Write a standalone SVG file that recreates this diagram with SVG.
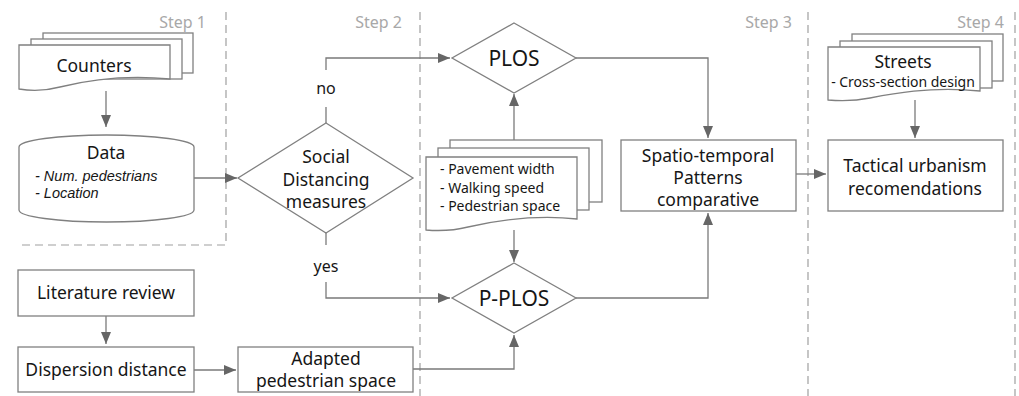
<svg xmlns="http://www.w3.org/2000/svg" width="1019" height="396" viewBox="0 0 1019 396">
<style>
.bg{fill:#fff}
.shape{fill:#fff;stroke:#808080;stroke-width:1.3}
.conn{fill:none;stroke:#7a7a7a;stroke-width:1.3}
.dash{fill:none;stroke:#a0a0a0;stroke-width:1.2;stroke-dasharray:8 5}
.t{font-family:"Noto Sans","Open Sans",sans-serif;fill:#161616;text-anchor:middle}
.big{font-size:17.5px}
.sm{font-size:14px}
.it{font-family:"Liberation Sans",Arial,sans-serif;font-style:italic;text-anchor:start;font-size:14.5px}
.lst{text-anchor:start;font-size:14px}
.step{font-family:"Noto Sans","Open Sans",sans-serif;font-size:16px;fill:#a8a8a8;text-anchor:end}
.lbl{font-family:"Noto Sans","Open Sans",sans-serif;font-size:16px;fill:#161616;text-anchor:middle}
</style>
<defs>
<marker id="ah" markerUnits="userSpaceOnUse" markerWidth="14" markerHeight="11" refX="12" refY="5" orient="auto">
<path d="M0,0 L12,5 L0,10 z" fill="#666"/>
</marker>
</defs>
<rect class="bg" x="0" y="0" width="1019" height="396"/>

<g id="steps">
<path class="dash" d="M226,12 V245 H18"/>
<path class="dash" d="M420,12 V396"/>
<path class="dash" d="M808,12 V396"/>
<path class="dash" d="M1015,12 V396"/>
<text class="step" x="206" y="28">Step 1</text>
<text class="step" x="402" y="28">Step 2</text>
<text class="step" x="792" y="28">Step 3</text>
<text class="step" x="1004" y="28">Step 4</text>
</g>

<g id="connectors">
<path class="conn" d="M106,91 V127" marker-end="url(#ah)"/>
<path class="conn" d="M194,178 H237" marker-end="url(#ah)"/>
<path class="conn" d="M326,123 V107"/>
<path class="conn" d="M326,70 V58 H450" marker-end="url(#ah)"/>
<path class="conn" d="M326,233 V245"/>
<path class="conn" d="M326,282 V298 H450" marker-end="url(#ah)"/>
<path class="conn" d="M514,140 V94" marker-end="url(#ah)"/>
<path class="conn" d="M514,230 V262" marker-end="url(#ah)"/>
<path class="conn" d="M576,58 H708 V138" marker-end="url(#ah)"/>
<path class="conn" d="M576,298 H708 V213" marker-end="url(#ah)"/>
<path class="conn" d="M796,174 H826" marker-end="url(#ah)"/>
<path class="conn" d="M915,100 V138" marker-end="url(#ah)"/>
<path class="conn" d="M106,316 V344" marker-end="url(#ah)"/>
<path class="conn" d="M194,370 H236" marker-end="url(#ah)"/>
<path class="conn" d="M413,369 H514 V335" marker-end="url(#ah)"/>
<text class="lbl" x="326" y="94">no</text>
<text class="lbl" x="326" y="272">yes</text>
</g>

<g id="counters">
<rect class="shape" x="43" y="33" width="150" height="40"/>
<rect class="shape" x="31" y="39" width="151" height="40"/>
<path class="shape" d="M19,45 H170 V79 C120,74 80,82 60,87 C45,91 30,91 19,89 Z"/>
<text class="t big" x="94" y="72">Counters</text>
</g>

<g id="data">
<path class="shape" d="M19,147 A87.5,12 0 0 1 194,147 V210 A87.5,12 0 0 1 19,210 Z"/>
<text class="t big" x="106" y="159">Data</text>
<text class="it" x="35" y="181" fill="#161616">- Num. pedestrians</text>
<text class="it" x="35" y="198" fill="#161616">- Location</text>
</g>

<g id="social">
<polygon class="shape" points="326,123 413,178 326,233 238,178"/>
<text class="t big" x="326" y="163">Social</text>
<text class="t big" x="326" y="186">Distancing</text>
<text class="t big" x="326" y="208">measures</text>
</g>

<g id="plos">
<polygon class="shape" points="514,23 576,58 514,93 452,58"/>
<text class="t" x="514" y="66" font-size="21">PLOS</text>
</g>

<g id="params">
<rect class="shape" x="450" y="140" width="152" height="62"/>
<rect class="shape" x="438" y="148" width="151" height="62"/>
<path class="shape" d="M426,157 H577 V219 C530,214 490,222 468,227 C452,231 438,231 426,230 Z"/>
<text class="t lst" x="440" y="174">- Pavement width</text>
<text class="t lst" x="440" y="193">- Walking speed</text>
<text class="t lst" x="440" y="211">- Pedestrian space</text>
</g>

<g id="pplos">
<polygon class="shape" points="514,263 576,298 514,333 452,298"/>
<text class="t" x="514" y="306" font-size="21">P-PLOS</text>
</g>

<g id="spatio">
<rect class="shape" x="621" y="140" width="175" height="71"/>
<text class="t big" x="708" y="162">Spatio-temporal</text>
<text class="t big" x="708" y="184">Patterns</text>
<text class="t big" x="708" y="206">comparative</text>
</g>

<g id="streets">
<rect class="shape" x="852" y="34" width="151" height="47"/>
<rect class="shape" x="840" y="41" width="152" height="47"/>
<path class="shape" d="M828,47 H980 V91 C930,86 890,94 870,98 C855,101 840,101 828,100 Z"/>
<text class="t big" x="903" y="68">Streets</text>
<text class="t sm" x="903" y="87">- Cross-section design</text>
</g>

<g id="tactical">
<rect class="shape" x="828" y="140" width="175" height="71"/>
<text class="t big" x="915" y="172">Tactical urbanism</text>
<text class="t big" x="915" y="195">recomendations</text>
</g>

<g id="literature">
<rect class="shape" x="18" y="270" width="176" height="46"/>
<text class="t big" x="106" y="299">Literature review</text>
</g>

<g id="dispersion">
<rect class="shape" x="18" y="347" width="176" height="45"/>
<text class="t big" x="106" y="376">Dispersion distance</text>
</g>

<g id="adapted">
<rect class="shape" x="238" y="347" width="175" height="45"/>
<text class="t big" x="326" y="365">Adapted</text>
<text class="t big" x="326" y="387">pedestrian space</text>
</g>
</svg>
